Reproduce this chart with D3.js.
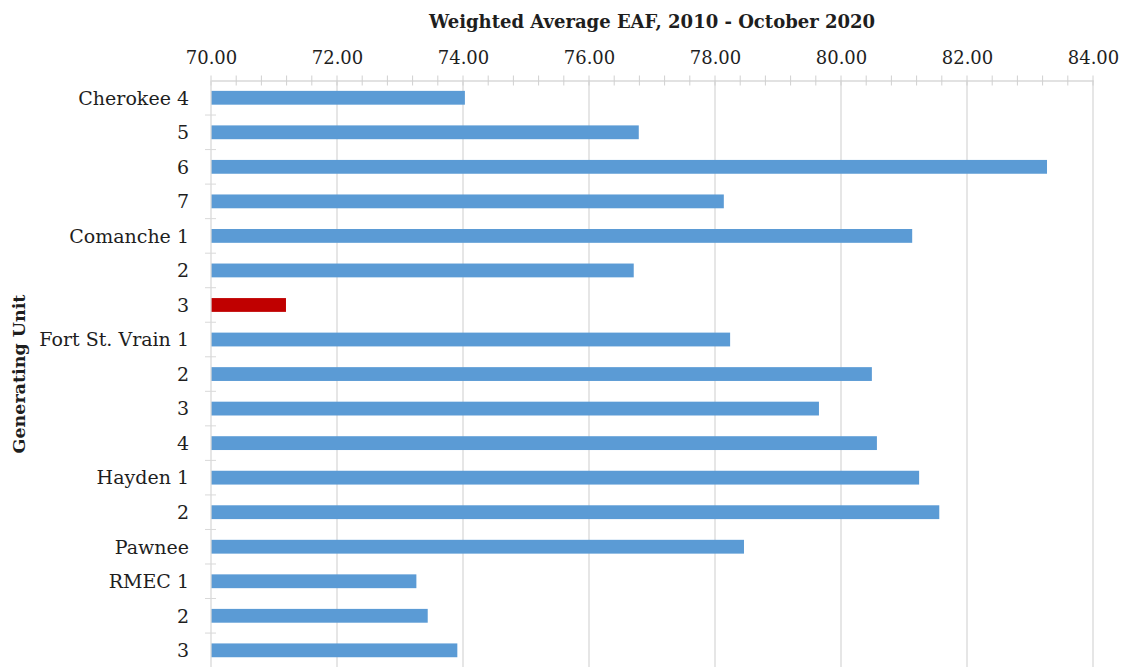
<!DOCTYPE html>
<html>
<head>
<meta charset="utf-8">
<script src="https://cdn.jsdelivr.net/npm/d3@7"></script>
<style>
  body { margin: 0; background: #fff; }
  svg { display: block; }
  text { font-family: "DejaVu Serif", serif; fill: #1e1e1e; }
</style>
</head>
<body>
<div id="chart"></div>
<script>
// units (top to bottom) and their weighted average EAF
const units = ["Cherokee 4", "5", "6", "7", "Comanche 1", "2", "3", "Fort St. Vrain 1", "2", "3", "4", "Hayden 1", "2", "Pawnee", "RMEC 1", "2", "3"];
const eaf = [74.03, 76.79, 83.27, 78.14, 81.13, 76.71, 71.19, 78.24, 80.49, 79.65, 80.57, 81.24, 81.56, 78.46, 73.26, 73.44, 73.91];
const highlighted = [6]; // Comanche 3
const majorTicks = [70, 72, 74, 76, 78, 80, 82, 84];

const W = 1125, H = 667;
const margin = {top: 80.5, right: 32, bottom: -0.6, left: 211};

const svg = d3.select("#chart").append("svg")
    .attr("width", W)
    .attr("height", H);

const x = d3.scaleLinear()
    .domain([70, 84])
    .range([margin.left, W - margin.right]);

const y = d3.scaleBand()
    .domain(d3.range(units.length))
    .range([margin.top, H - margin.bottom])
    .paddingInner(0.6)
    .paddingOuter(0.3);

const yTop = margin.top, yBottom = H - margin.bottom;

// gridlines
svg.append("g")
    .selectAll("line")
    .data(majorTicks.slice(1))
    .join("line")
    .attr("x1", d => x(d)).attr("x2", d => x(d))
    .attr("y1", yTop).attr("y2", yBottom)
    .attr("stroke", "#d9d9d9")
    .attr("stroke-width", 1.3);

// bars
svg.append("g")
    .selectAll("rect")
    .data(eaf)
    .join("rect")
    .attr("x", x(70))
    .attr("y", (d, i) => y(i))
    .attr("width", d => x(d) - x(70))
    .attr("height", y.bandwidth())
    .attr("fill", (d, i) => highlighted.includes(i) ? "#c00000" : "#5b9bd5");

// top axis
const xAxis = svg.append("g")
    .attr("transform", `translate(0,${yTop})`)
    .call(d3.axisTop(x)
        .tickValues(majorTicks)
        .tickFormat(d3.format(".2f"))
        .tickSize(0)
        .tickPadding(17));
xAxis.select(".domain").attr("stroke", "#d9d9d9").attr("stroke-width", 1.3);
xAxis.selectAll("text")
    .style("font-size", "18px")
    .attr("fill", "#1e1e1e");

// minor ticks crossing the axis
svg.append("g")
    .selectAll("line")
    .data(d3.range(0, 36).map(i => 70 + i * 0.4))
    .join("line")
    .attr("x1", d => x(d)).attr("x2", d => x(d))
    .attr("y1", yTop - 5).attr("y2", yTop + 5)
    .attr("stroke", "#d0d0d0");

// left axis
svg.append("line")
    .attr("x1", x(70)).attr("x2", x(70))
    .attr("y1", yTop).attr("y2", yBottom)
    .attr("stroke", "#d9d9d9")
    .attr("stroke-width", 1.3);

svg.append("g")
    .selectAll("line")
    .data(d3.range(1, units.length))
    .join("line")
    .attr("x1", x(70) - 6).attr("x2", x(70) + 5)
    .attr("y1", i => y(i) - y.step() * y.paddingInner() / 2)
    .attr("y2", i => y(i) - y.step() * y.paddingInner() / 2)
    .attr("stroke", "#d9d9d9");

svg.append("g")
    .selectAll("text")
    .data(units)
    .join("text")
    .attr("x", 189)
    .attr("y", (d, i) => y(i) + y.bandwidth() / 2)
    .attr("dy", "0.36em")
    .attr("text-anchor", "end")
    .style("font-size", "19px")
    .text(d => d);

// titles
svg.append("text")
    .attr("x", (x(70) + x(84)) / 2)
    .attr("y", 28)
    .attr("text-anchor", "middle")
    .style("font-size", "18px")
    .style("font-weight", "bold")
    .text("Weighted Average EAF, 2010 - October 2020");

svg.append("text")
    .attr("transform", `translate(25,${(yTop + yBottom) / 2}) rotate(-90)`)
    .attr("text-anchor", "middle")
    .style("font-size", "17.5px")
    .style("font-weight", "bold")
    .text("Generating Unit");
</script>
</body>
</html>
